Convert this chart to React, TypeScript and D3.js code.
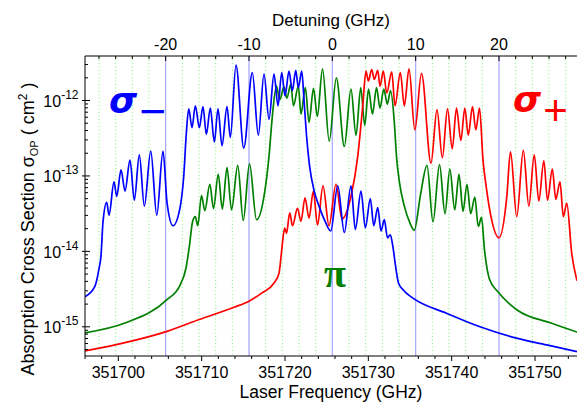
import * as d3 from 'd3'

// absorption cross section spectra, [laser frequency (GHz), log10 sigma (cm^2)]
const sigmaMinus: [number, number][] = [
	[351696.0, -14.6], [351697.2, -14.46], [351697.68, -14.23], [351697.92, -14.06], [351698.16, -13.61],
	[351698.61, -13.35], [351698.88, -13.52], [351699.48, -13.08], [351699.81, -13.27], [351700.32, -12.92],
	[351700.8, -13.2], [351701.4, -12.79], [351701.92, -13.32], [351702.52, -12.72], [351703.12, -13.4],
	[351703.89, -12.67], [351704.61, -13.52], [351705.36, -12.67], [351705.84, -13.35], [351706.56, -13.66],
	[351707.37, -13.44], [351707.85, -13.0], [351708.16, -12.43], [351708.45, -12.11], [351708.84, -12.36],
	[351709.24, -12.07], [351709.72, -12.36], [351710.16, -12.08], [351710.56, -12.45], [351711.04, -12.1],
	[351711.52, -12.55], [351711.96, -12.11], [351712.44, -12.6], [351713.04, -12.08], [351713.44, -12.49],
	[351714.12, -11.53], [351715.05, -12.63], [351716.08, -11.63], [351716.8, -12.46], [351717.48, -11.65],
	[351718.08, -12.25], [351718.68, -11.65], [351719.16, -12.07], [351719.61, -11.63], [351720.0, -11.94],
	[351720.48, -11.61], [351720.88, -11.87], [351721.29, -11.6], [351721.6, -11.83], [351722.01, -11.61],
	[351722.28, -11.99], [351722.58, -12.46], [351722.94, -12.86], [351723.48, -13.19], [351724.08, -13.4],
	[351724.8, -13.6], [351725.49, -13.73], [351726.33, -13.13], [351727.12, -13.75], [351727.92, -13.13],
	[351728.44, -13.71], [351729.12, -13.2], [351729.64, -13.69], [351730.24, -13.3], [351730.65, -13.66],
	[351731.13, -13.42], [351731.52, -13.73], [351731.92, -13.58], [351732.3, -13.82], [351732.63, -13.78],
	[351732.94, -13.93], [351733.26, -14.19], [351733.62, -14.42], [351734.16, -14.51], [351735.36, -14.62],
	[351739.38, -14.82], [351743.4, -15.0], [351747.4, -15.14], [351751.41, -15.24], [351755.04, -15.33],
]

const sigmaPlus: [number, number][] = [
	[351696.0, -15.32], [351700.8, -15.21], [351705.84, -15.06], [351709.8, -14.9], [351713.88, -14.74],
	[351715.68, -14.66], [351717.24, -14.55], [351718.68, -14.42], [351719.28, -14.29], [351719.58, -14.01],
	[351719.76, -13.82], [351719.97, -13.69], [351720.18, -13.76], [351720.57, -13.49], [351720.9, -13.66],
	[351721.5, -13.43], [351721.92, -13.6], [351722.4, -13.29], [351722.88, -13.56], [351723.4, -13.2],
	[351723.9, -13.65], [351724.56, -13.13], [351725.28, -13.66], [351726.12, -13.11], [351726.84, -13.57],
	[351727.92, -13.27], [351728.73, -12.74], [351729.33, -12.07], [351729.72, -11.61], [351730.0, -11.74],
	[351730.41, -11.59], [351730.72, -11.72], [351731.13, -11.6], [351731.4, -11.81], [351731.8, -11.61],
	[351732.21, -11.9], [351732.81, -11.62], [351733.2, -12.07], [351733.84, -11.63], [351734.32, -12.07],
	[351734.88, -11.58], [351735.58, -12.39], [351736.38, -11.64], [351737.52, -12.83], [351738.24, -12.12],
	[351738.88, -12.76], [351739.5, -12.11], [351740.07, -12.64], [351740.58, -12.1], [351741.1, -12.53],
	[351741.58, -12.1], [351741.99, -12.46], [351742.5, -12.08], [351742.9, -12.39], [351743.34, -12.1],
	[351743.76, -12.79], [351744.18, -13.17], [351744.72, -13.54], [351745.68, -13.82], [351746.61, -13.28],
	[351747.06, -12.68], [351747.81, -13.54], [351748.6, -12.66], [351749.26, -13.4], [351749.91, -12.72],
	[351750.46, -13.33], [351751.06, -12.8], [351751.5, -13.32], [351752.08, -12.91], [351752.5, -13.31],
	[351753.0, -13.08], [351753.4, -13.54], [351753.81, -13.36], [351754.41, -14.03], [351755.04, -14.39],
]

const sigmaPi: [number, number][] = [
	[351696.0, -15.08], [351700.8, -14.95], [351705.84, -14.64], [351707.4, -14.45], [351708.12, -14.22],
	[351708.54, -13.92], [351708.9, -13.61], [351709.24, -13.54], [351709.53, -13.66], [351709.98, -13.26],
	[351710.38, -13.46], [351710.98, -13.11], [351711.42, -13.43], [351711.99, -12.98], [351712.48, -13.44],
	[351713.04, -12.89], [351713.58, -13.45], [351714.33, -12.86], [351714.99, -13.59], [351715.74, -12.84],
	[351716.58, -13.58], [351717.48, -13.27], [351718.08, -12.74], [351718.48, -12.21], [351718.98, -11.81],
	[351719.37, -11.99], [351719.88, -11.82], [351720.22, -11.97], [351720.69, -11.79], [351721.02, -12.07],
	[351721.6, -11.81], [351721.92, -12.18], [351722.44, -11.83], [351722.88, -12.29], [351723.42, -11.84],
	[351723.88, -12.21], [351724.5, -11.58], [351725.31, -12.54], [351726.16, -11.7], [351727.12, -12.61],
	[351727.92, -11.85], [351728.52, -12.46], [351729.09, -11.83], [351729.57, -12.33], [351730.02, -11.85],
	[351730.5, -12.18], [351730.98, -11.83], [351731.4, -12.1], [351731.86, -11.85], [351732.28, -12.05],
	[351732.66, -11.87], [351733.12, -12.29], [351733.38, -12.74], [351733.74, -13.09], [351734.32, -13.4],
	[351734.94, -13.61], [351735.51, -13.72], [351736.26, -13.25], [351737.04, -12.86], [351737.76, -13.61],
	[351738.54, -12.85], [351739.2, -13.5], [351739.78, -12.91], [351740.37, -13.45], [351740.88, -12.98],
	[351741.36, -13.47], [351741.84, -13.11], [351742.28, -13.5], [351742.78, -13.28], [351743.19, -13.67],
	[351743.58, -13.55], [351743.94, -13.98], [351744.54, -14.37], [351745.5, -14.53], [351747.9, -14.78],
	[351751.91, -14.95], [351755.04, -15.07],
]

const freqLabels = [351700, 351710, 351720, 351730, 351740, 351750]
const detuningLabels = [-20, -10, 0, 10, 20]
const decadeLabels = [-15, -14, -13, -12]
const lineCenter = 351725.68 // GHz, zero detuning

const width = 577
const height = 402
const marginLeft = 85
const marginTop = 56
const plotBottom = 356
const plotRight = 577
const font = 'Liberation Sans, Arial, sans-serif'

export default function App() {
	const x = d3.scaleLinear().domain([351696.0, 351755.04]).range([marginLeft, plotRight])
	const xd = d3.scaleLinear().domain([351696.0 - lineCenter, 351755.04 - lineCenter]).range([marginLeft, plotRight])
	const y = d3.scaleLog().domain([10 ** -15.387, 10 ** -11.41]).range([plotBottom, marginTop])

	const line = d3
		.line<[number, number]>()
		.x((d) => x(d[0]))
		.y((d) => y(10 ** d[1]))
		.curve(d3.curveMonotoneX)

	const freqTicks = d3.range(351696, 351756, 2)
	const detTicks = d3.range(-28, 30, 2)
	const logTicks: { v: number; major: boolean }[] = []
	for (let e = -16; e <= -12; e++) {
		for (let m = 1; m <= 9; m++) {
			const v = m * 10 ** e
			if (v >= y.domain()[0] && v <= y.domain()[1]) logTicks.push({ v, major: m === 1 })
		}
	}

	return (
		<>
			<style>{'body{margin:0}'}</style>
			<svg width={width} height={height} style={{ display: 'block', background: '#fff' }}>
				<defs>
					<clipPath id="plot">
						<rect x={marginLeft} y={marginTop} width={plotRight - marginLeft} height={plotBottom - marginTop} />
					</clipPath>
				</defs>

				{/* grid on detuning */}
				{detTicks.map((d) =>
					d % 10 === 0 ? (
						<line key={d} x1={xd(d)} x2={xd(d)} y1={marginTop} y2={plotBottom} stroke="#a4a4ff" strokeWidth={1.2} />
					) : (
						<line key={d} x1={xd(d)} x2={xd(d)} y1={marginTop} y2={plotBottom} stroke="#7cf07c" strokeWidth={1} strokeDasharray="1 2.5" />
					),
				)}

				<g clipPath="url(#plot)" fill="none" strokeWidth={1.7}>
					<path d={line(sigmaPi) ?? ''} stroke="#008000" />
					<path d={line(sigmaPlus) ?? ''} stroke="#ff0000" />
					<path d={line(sigmaMinus) ?? ''} stroke="#0000ff" />
				</g>

				{/* axes */}
				<g stroke="#000" strokeWidth={1}>
					<line x1={marginLeft} x2={marginLeft} y1={marginTop} y2={plotBottom} />
					<line x1={marginLeft} x2={plotRight} y1={plotBottom} y2={plotBottom} />
					<line x1={marginLeft} x2={plotRight} y1={marginTop} y2={marginTop} />
					{freqTicks.map((f) => (
						<line key={f} x1={x(f)} x2={x(f)} y1={plotBottom} y2={plotBottom + (f % 10 === 0 ? 5 : 3)} />
					))}
					{detTicks.map((d) => (
						<line key={d} x1={xd(d)} x2={xd(d)} y1={marginTop} y2={marginTop + (d % 10 === 0 ? 5 : 3)} />
					))}
					{logTicks.map((t) => (
						<line key={t.v} x1={marginLeft - (t.major ? 3 : 0)} x2={marginLeft + (t.major ? 5 : 3)} y1={y(t.v)} y2={y(t.v)} />
					))}
				</g>

				<g fontFamily={font} fontSize={16} fill="#000">
					{freqLabels.map((f) => (
						<text key={f} x={x(f)} y={378} textAnchor="middle">
							{f}
						</text>
					))}
					{detuningLabels.map((d) => (
						<text key={d} x={xd(d)} y={50} textAnchor="middle">
							{d}
						</text>
					))}
					{decadeLabels.map((e) => (
						<text key={e} x={78.5} y={y(10 ** e) + 6.5} textAnchor="end">
							10
							<tspan fontSize={12} dy={-8}>
								{e}
							</tspan>
						</text>
					))}
					<text x={331} y={26} textAnchor="middle" fontSize={17}>
						Detuning (GHz)
					</text>
					<text x={331} y={398} textAnchor="middle" fontSize={17.5}>
						Laser Frequency (GHz)
					</text>
					<text transform="translate(34,229) rotate(-90)" textAnchor="middle" fontSize={18}>
						Absorption Cross Section{'  '}σ
						<tspan fontSize={11} dy={4}>
							OP
						</tspan>
						<tspan dy={-4}> ( cm</tspan>
						<tspan fontSize={12} dy={-7}>
							2
						</tspan>
						<tspan dy={7}> )</tspan>
					</text>
				</g>

				{/* polarisation labels */}
				<g fontFamily="DejaVu Sans, sans-serif" fontWeight="bold">
					<text x={109} y={113} fontSize={36} fontStyle="italic" fill="#0000ff">
						σ
					</text>
					<text x={153} y={127} fontSize={46} fontFamily={font} fontWeight="normal" textAnchor="middle" fill="#0000ff">
						−
					</text>
					<text x={513} y={112} fontSize={36} fontStyle="italic" fill="#ff0000">
						σ
					</text>
					<text x={555.5} y={125} fontSize={42} fontFamily={font} fontWeight="normal" textAnchor="middle" fill="#ff0000">
						+
					</text>
					<text x={335} y={287} fontSize={40} fontFamily="Liberation Serif, serif" textAnchor="middle" fill="#008000">
						π
					</text>
				</g>
			</svg>
		</>
	)
}
